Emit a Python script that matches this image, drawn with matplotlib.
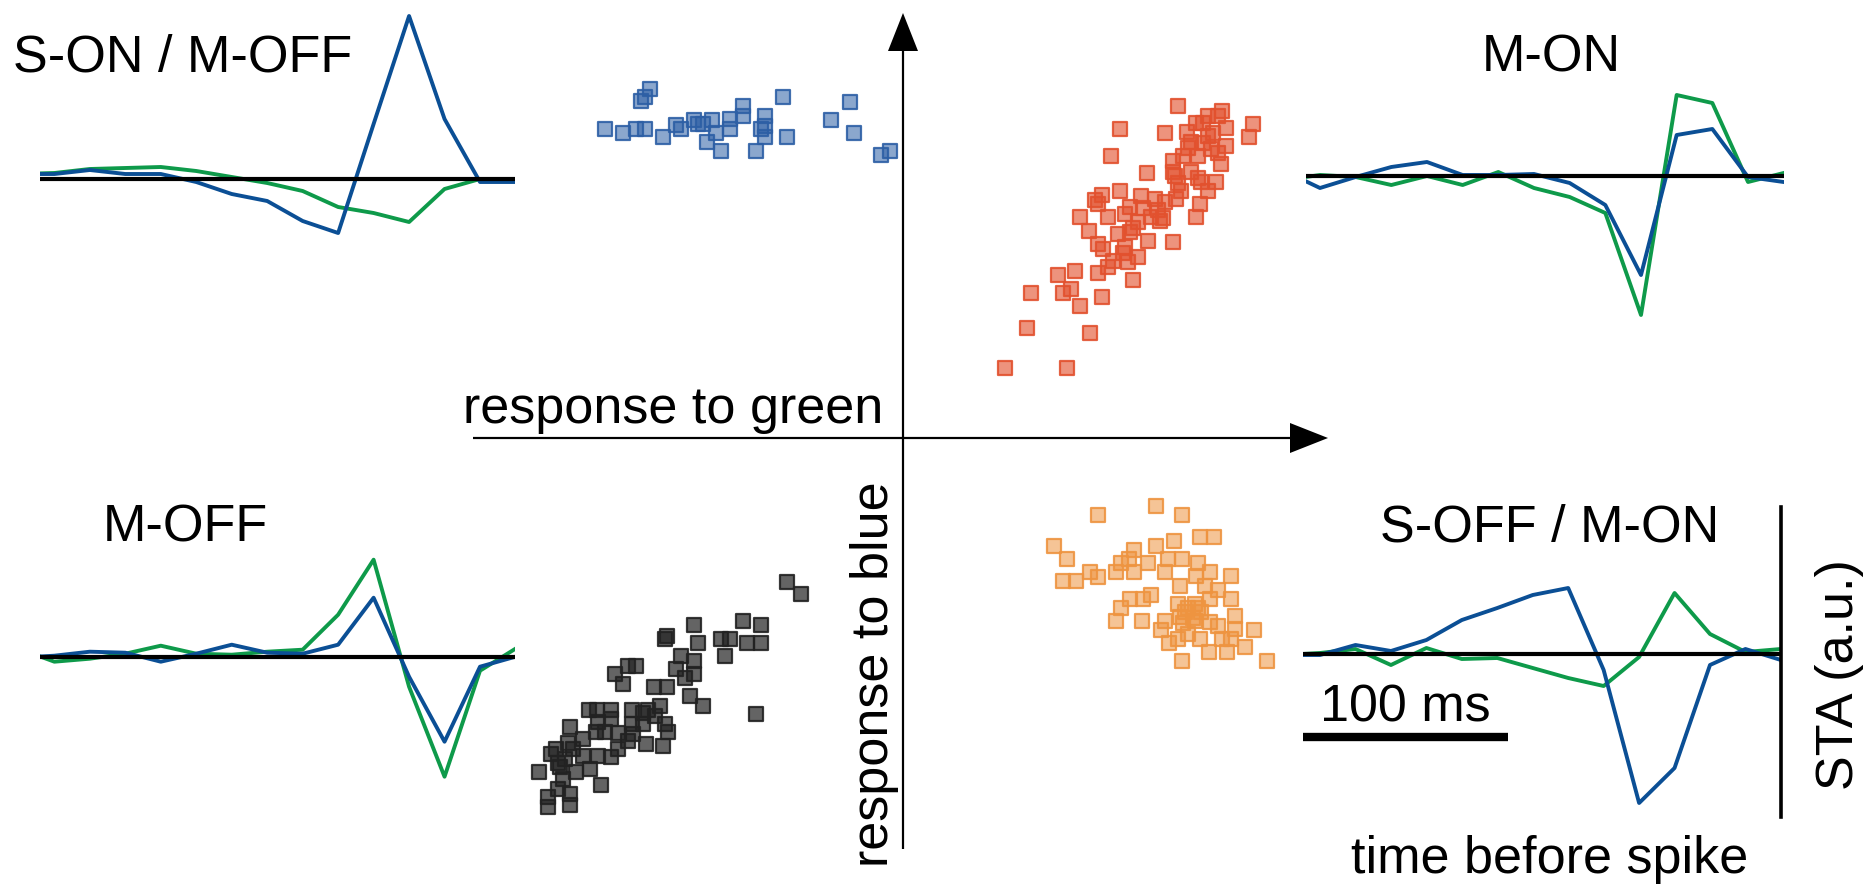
import numpy as np
import matplotlib.pyplot as plt
from matplotlib.colors import to_rgba

plt.rcParams['font.family'] = ['Liberation Sans', 'DejaVu Sans']

W, H = 1875, 893

# scatter clusters: (response to green, response to blue)
blue_pts = np.array([
    (-2.53, 3.49), (-2.58, 3.41), (-2.62, 3.37), (-2.98, 3.09), (-2.80, 3.05), (-2.67, 3.09),
    (-2.58, 3.09), (-2.40, 3.01), (-2.27, 3.13), (-2.22, 3.09), (-2.09, 3.18), (-2.05, 3.14),
    (-2.00, 3.14), (-1.91, 3.18), (-1.87, 3.05), (-1.96, 2.96), (-1.82, 2.87), (-1.73, 3.19),
    (-1.73, 3.09), (-1.60, 3.32), (-1.60, 3.22), (-1.38, 3.22), (-1.38, 3.12), (-1.42, 3.09),
    (-1.38, 3.01), (-1.47, 2.87), (-1.20, 3.41), (-1.16, 3.01), (-0.72, 3.18), (-0.53, 3.36),
    (-0.49, 3.05), (-0.22, 2.83), (-0.13, 2.87)])

red_pts = np.array([
    (2.75, 3.32), (3.05, 3.22), (3.19, 3.27), (3.15, 3.22), (3.50, 3.14), (3.46, 3.01), (3.23, 3.10),
    (3.23, 2.92), (2.93, 3.15), (2.84, 3.06), (2.62, 3.05), (2.17, 3.09), (2.08, 2.82), (2.88, 2.96),
    (3.05, 3.02), (3.08, 2.89), (2.95, 2.82), (2.80, 2.82), (2.70, 2.77), (3.18, 2.74), (2.70, 2.66),
    (2.88, 2.66), (2.44, 2.65), (2.98, 2.56), (3.13, 2.56), (3.05, 2.47), (2.78, 2.47), (2.73, 2.39),
    (2.97, 2.34), (2.17, 2.47), (1.99, 2.43), (1.92, 2.38), (1.95, 2.34), (2.38, 2.42), (2.52, 2.39),
    (2.62, 2.36), (2.27, 2.31), (1.77, 2.21), (2.05, 2.21), (2.22, 2.24), (2.35, 2.16), (2.57, 2.17),
    (2.48, 2.21), (2.93, 2.21), (1.86, 2.07), (2.15, 2.04), (2.27, 2.06), (2.45, 1.97), (2.70, 1.96),
    (1.95, 1.94), (2.22, 1.91), (2.00, 1.89), (2.35, 1.81), (2.10, 1.77), (2.25, 1.76), (2.05, 1.71),
    (1.72, 1.67), (1.55, 1.63), (1.95, 1.65), (2.30, 1.58), (1.28, 1.45), (1.60, 1.45), (1.68, 1.49),
    (1.99, 1.41), (1.77, 1.32), (1.24, 1.10), (1.87, 1.05), (1.02, 0.70), (1.64, 0.70),
    (2.85, 2.90), (3.10, 3.05), (2.60, 2.20), (2.40, 2.30), (2.75, 2.55), (2.30, 2.10), (3.00, 3.15),
    (2.20, 1.85), (3.00, 2.95), (2.72, 2.62), (3.15, 2.85), (2.55, 2.28), (2.95, 2.60)])

orange_pts = np.array([
    (2.53, -0.68), (1.95, -0.77), (2.79, -0.77), (1.51, -1.08), (1.64, -1.21), (2.53, -1.08),
    (2.71, -1.03), (2.97, -0.99), (3.11, -0.99), (2.31, -1.12), (2.26, -1.21), (2.18, -1.25),
    (2.45, -1.25), (2.65, -1.21), (2.79, -1.21), (2.95, -1.25), (2.13, -1.34), (2.31, -1.34),
    (2.62, -1.34), (3.07, -1.34), (1.87, -1.34), (1.95, -1.39), (1.60, -1.43), (1.73, -1.43),
    (2.93, -1.38), (3.28, -1.38), (2.77, -1.48), (3.02, -1.48), (3.15, -1.52), (2.48, -1.57),
    (2.27, -1.61), (2.40, -1.61), (3.07, -1.61), (3.28, -1.61), (2.18, -1.70), (2.75, -1.66),
    (2.92, -1.66), (2.82, -1.74), (2.98, -1.74), (2.92, -1.83), (2.13, -1.83), (2.39, -1.83),
    (2.62, -1.83), (2.77, -1.79), (3.07, -1.84), (3.15, -1.88), (3.32, -1.78), (3.32, -1.91),
    (3.51, -1.92), (2.58, -1.92), (2.75, -2.01), (2.85, -1.96), (2.97, -2.01), (3.19, -2.01),
    (3.28, -2.01), (2.66, -2.05), (3.42, -2.09), (3.06, -2.14), (3.24, -2.14), (2.79, -2.23),
    (3.64, -2.23), (2.85, -1.70), (2.90, -1.80), (2.80, -1.85), (2.95, -1.70)])

black_pts = np.array([
    (-1.16, -1.44), (-1.02, -1.56), (-2.09, -1.87), (-1.60, -1.83), (-1.42, -1.87), (-2.36, -1.98),
    (-2.38, -2.01), (-2.05, -2.05), (-1.82, -2.01), (-1.73, -2.01), (-1.56, -2.05), (-1.42, -2.05),
    (-1.78, -2.18), (-2.22, -2.18), (-2.09, -2.23), (-2.27, -2.31), (-2.09, -2.36), (-2.18, -2.40),
    (-2.88, -2.36), (-2.75, -2.28), (-2.67, -2.28), (-2.80, -2.46), (-2.49, -2.49), (-2.36, -2.49),
    (-2.13, -2.58), (-2.00, -2.68), (-1.47, -2.76), (-3.14, -2.72), (-3.06, -2.72), (-2.92, -2.72),
    (-2.71, -2.72), (-2.55, -2.72), (-2.43, -2.68), (-2.48, -2.78), (-3.33, -2.89), (-3.05, -2.84),
    (-2.92, -2.81), (-2.71, -2.86), (-2.60, -2.86), (-2.38, -2.86), (-3.07, -2.94), (-2.98, -2.94),
    (-2.35, -2.94), (-3.20, -3.01), (-2.70, -2.96), (-2.75, -3.03), (-2.57, -3.06), (-2.40, -3.08),
    (-2.85, -3.11), (-2.92, -3.19), (-3.47, -3.11), (-3.30, -3.11), (-3.52, -3.16), (-3.38, -3.21),
    (-3.20, -3.18), (-3.05, -3.18), (-3.64, -3.34), (-3.43, -3.29), (-3.27, -3.34), (-3.13, -3.31),
    (-3.40, -3.41), (-3.02, -3.47), (-3.55, -3.59), (-3.33, -3.56), (-3.55, -3.69), (-3.33, -3.67),
    (-3.45, -3.51), (-3.45, -3.25), (-3.35, -3.05), (-2.85, -2.95), (-2.60, -2.75)])

# STA traces, 15 frames, last one is the spike frame (a.u.)
son_blue = [0.5, 0.5, 0.9, 0.5, 0.5, -0.3, -1.5, -2.2, -4.2, -5.4, 5.5, 16.3, 6.0, -0.3, -0.3]
son_green = [0.5, 0.6, 1.0, 1.1, 1.2, 0.8, 0.2, -0.4, -1.2, -2.8, -3.4, -4.3, -1.0, 0.0, -0.1]
mon_blue = [0.5, -1.2, -0.1, 0.9, 1.4, 0.1, 0.1, 0.2, -0.7, -2.9, -9.9, 4.1, 4.7, -0.1, -0.6]
mon_green = [-0.4, 0.1, -0.1, -0.9, 0.0, -0.9, 0.4, -1.2, -2.1, -3.7, -13.9, 8.1, 7.3, -0.6, 0.3]
moff_blue = [-0.1, 0.1, 0.5, 0.4, -0.5, 0.3, 1.2, 0.4, 0.3, 1.2, 5.9, -2.0, -8.5, -1.0, 0.0]
moff_green = [0.8, -0.5, -0.2, 0.3, 1.1, 0.3, 0.2, 0.5, 0.7, 4.2, 9.7, -3.0, -12.0, -1.4, 0.8]
soff_blue = [-0.1, -0.1, 0.9, 0.3, 1.4, 3.4, 4.6, 5.9, 6.6, -1.6, -14.9, -11.4, -1.1, 0.5, -0.6]
soff_green = [-0.1, 0.1, 0.5, -1.1, 0.6, -0.5, -0.4, -1.4, -2.4, -3.2, -0.3, 6.1, 2.0, 0.2, 0.5]
frame_ms = 17.3

BLUE = '#0b4f95'
GREEN = '#0e9a4a'
FS = 37.5

fig = plt.figure(figsize=(W / 100, H / 100), dpi=100)


def px_axes(left, top, width, height):
    a = fig.add_axes([left / W, 1 - (top + height) / H, width / W, height / H])
    a.set_facecolor('none')
    a.axis('off')
    return a


def ftext(x, y, s, **kw):
    fig.text(x / W, 1 - y / H, s, fontsize=FS, **kw)


# main scatter, 100 px per unit, origin at the crossing of the arrows
ox, oy = 903, 438
ax = px_axes(0, 0, W, H)
ax.set_xlim(-ox / 100, (W - ox) / 100)
ax.set_ylim(-(H - oy) / 100, oy / 100)

arrow_kw = dict(width=0.022, head_width=0.30, head_length=0.38, length_includes_head=True,
                fc='k', ec='none')
ax.arrow(-4.30, 0, 8.55, 0, **arrow_kw)
ax.arrow(0, -4.11, 0, 8.36, **arrow_kw)

clusters = [(blue_pts, '#2d5fa5', 0.55), (red_pts, '#e2512e', 0.62),
            (orange_pts, '#ee9440', 0.55), (black_pts, '#222222', 0.7)]
for pts, col, a in clusters:
    ax.scatter(pts[:, 0], pts[:, 1], s=108, marker='s', facecolor=to_rgba(col, a),
               edgecolor=to_rgba(col, 0.9), linewidths=1.6)


def sta_panel(k0_px, step, zero_px, ylim, xlo, blue, green):
    left = k0_px + xlo * step
    top = zero_px - ylim[1] * 10
    a = px_axes(left, top, (14 - xlo) * step, (ylim[1] - ylim[0]) * 10)
    k = np.arange(len(blue))
    a.plot(k, green, color=GREEN, lw=2.8)
    a.plot(k, blue, color=BLUE, lw=2.8)
    a.axhline(0, color='k', lw=3.0)
    a.set_xlim(xlo, 14)
    a.set_ylim(ylim)
    return a


sta_panel(18.9, 35.47, 179, (-7, 17), 0.6, son_blue, son_green)
sta_panel(1284.3, 35.67, 176, (-15, 9), 0.6, mon_blue, mon_green)
sta_panel(18.9, 35.47, 656.7, (-13, 11), 0.6, moff_blue, moff_green)
a4 = sta_panel(1284.6, 35.45, 654, (-16.3, 14.7), 0.52, soff_blue, soff_green)
a4.axvline(14, color='k', lw=2.6, clip_on=False)
a4.plot([0.52, 0.52 + 100 / frame_ms], [-8.3, -8.3], color='k', lw=6,
        solid_capstyle='butt', clip_on=False)

ftext(13, 72, 'S-ON / M-OFF')
ftext(1551, 72, 'M-ON', ha='center')
ftext(185, 542, 'M-OFF', ha='center')
ftext(1550, 541, 'S-OFF / M-ON', ha='center')
ftext(1405, 722, '100 ms', ha='center')
ftext(1550, 873, 'time before spike', ha='center')
ftext(463, 423, 'response to green')
ftext(888, 867, 'response to blue', rotation=90, rotation_mode='anchor',
      ha='left', va='baseline')
ftext(1853, 790, 'STA (a.u.)', rotation=90, rotation_mode='anchor',
      ha='left', va='baseline')

fig.savefig('out.png', dpi=100)
